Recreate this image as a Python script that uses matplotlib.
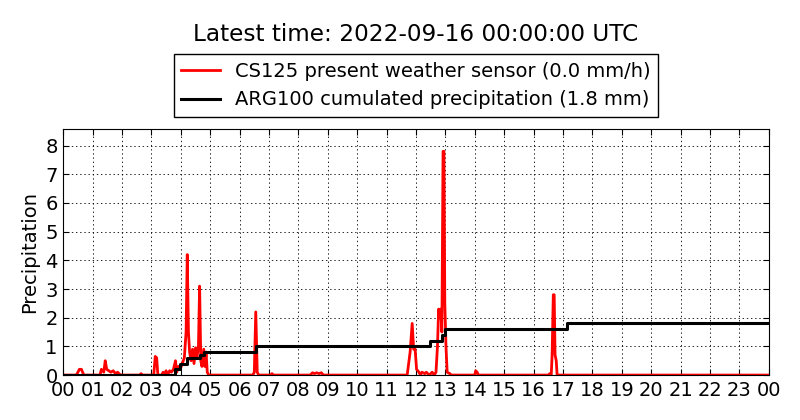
import matplotlib
matplotlib.use("Agg")
import matplotlib.pyplot as plt
import numpy as np

plt.rcParams["lines.scale_dashes"] = False
plt.rcParams["lines.dotted_pattern"] = [1, 2]

# CS125 present weather sensor, rate in mm/h (time in hours of the day)
rate_t = [0.0, 0.45, 0.55, 0.62, 0.7, 1.25, 1.3, 1.38, 1.43, 1.48, 1.55, 1.62, 1.7, 1.78,
          1.85, 1.95, 2.6, 2.65, 2.7, 3.08, 3.13, 3.18, 3.22, 3.35, 3.4, 3.45, 3.5, 3.55,
          3.62, 3.68, 3.75, 3.82, 3.86, 3.92, 3.98, 4.05, 4.12, 4.18, 4.22, 4.26, 4.3,
          4.35, 4.4, 4.45, 4.5, 4.55, 4.6, 4.64, 4.68, 4.72, 4.78, 4.82, 4.86, 4.9, 4.95,
          6.45, 6.5, 6.55, 6.6, 6.65, 7.05, 7.1, 7.15, 8.4, 8.48, 8.55, 8.62, 8.7, 8.78,
          8.85, 11.7, 11.8, 11.87, 11.92, 11.97, 12.02, 12.1, 12.15, 12.2, 12.3, 12.35,
          12.45, 12.55, 12.62, 12.68, 12.73, 12.77, 12.8, 12.84, 12.88, 12.92, 12.95,
          12.98, 13.02, 13.06, 13.15, 13.2, 14.0, 14.03, 14.08, 14.12, 16.5, 16.55, 16.6,
          16.63, 16.67, 16.7, 16.73, 16.77, 16.8, 24.0]
rate_v = [0, 0, 0.2, 0.2, 0, 0, 0.2, 0.1, 0.5, 0.2, 0.15, 0.1, 0.15, 0.05,
          0.1, 0, 0, 0.05, 0, 0, 0.65, 0.6, 0, 0, 0.1, 0, 0.15, 0,
          0.15, 0.1, 0.2, 0.5, 0.1, 0.3, 0.2, 0.4, 0.6, 1.5, 4.2, 1.5, 0.8,
          0.5, 0.9, 0.4, 0.95, 0.6, 1.0, 3.1, 0.5, 0.3, 0.9, 0.3, 0.8, 0.1, 0,
          0, 0.1, 2.2, 0.1, 0, 0, 0.05, 0, 0, 0.08, 0.05, 0.08, 0.05, 0.08,
          0, 0, 0.8, 1.8, 0.9, 0.9, 0.2, 0.1, 0, 0.1, 0.05, 0.1,
          0, 0.1, 0, 0.1, 1.0, 2.3, 2.0, 2.3, 1.5, 7.8, 7.8,
          2.5, 1.0, 0.1, 0.05, 0, 0, 0.15, 0.1, 0, 0, 0.05, 0,
          0.7, 2.8, 2.8, 0.7, 0.5, 0, 0]

# ARG100 cumulated precipitation in mm
cum_t = [0.0, 3.81, 3.98, 4.21, 4.66, 4.78, 6.57, 12.49, 12.89, 13.0, 17.15, 24.0]
cum_v = [0.0, 0.2, 0.4, 0.6, 0.7, 0.8, 1.0, 1.2, 1.4, 1.6, 1.8, 1.8]

hour_labels = ["%02d" % (h % 24) for h in range(25)]

fig = plt.figure(figsize=(8, 4.2), dpi=100)
ax = fig.add_axes([0.079, 0.107, 0.882, 0.586])

ax.plot(rate_t, rate_v, color="red", lw=2,
        label="CS125 present weather sensor (%.1f mm/h)" % rate_v[-1])
ax.plot(cum_t, cum_v, color="black", lw=2.2, drawstyle="steps-post",
        label="ARG100 cumulated precipitation (%.1f mm)" % cum_v[-1])

ax.set_xlim(0, 24)
ax.set_ylim(0, max(rate_v) * 1.1)
ax.set_xticks(range(25))
ax.set_xticklabels(hour_labels)
ax.set_yticks(range(9))
ax.tick_params(direction="in", top=True, right=True, labelsize=14, length=4, pad=4)
ax.grid(True, color="black", linestyle=":", lw=0.6)
ax.set_ylabel("Precipitation", fontsize=14)

fig.text(0.519, 0.917, "Latest time: 2022-09-16 00:00:00 UTC", fontsize=16.7,
         ha="center", va="center")
leg = ax.legend(loc="lower center", bbox_to_anchor=(0.5, 1.0), fontsize=14,
                fancybox=False, framealpha=1, borderpad=0.4, labelspacing=0.5,
                handlelength=2.0, handletextpad=0.75, borderaxespad=0.6)
leg.get_frame().set_edgecolor("black")

fig.savefig("out.png", dpi=100)
